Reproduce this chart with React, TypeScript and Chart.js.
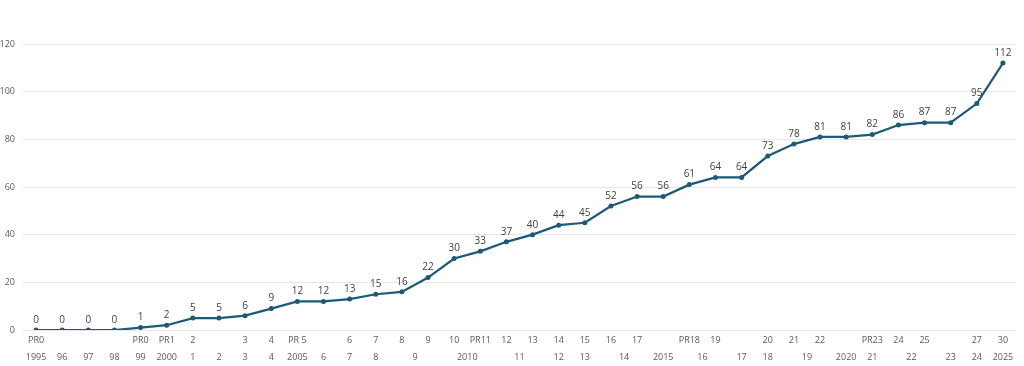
import React, { useEffect, useRef } from "react";
import { Chart, registerables } from "chart.js";

Chart.register(...registerables);

const prLabels = ["PR0", "", "", "", "PR0", "PR1", "2", "", "3", "4", "PR 5", "", "6", "7", "8", "9", "10", "PR11", "12", "13", "14", "15", "16", "17", "", "PR18", "19", "", "20", "21", "22", "", "PR23", "24", "25", "", "27", "30"];
const values = [0, 0, 0, 0, 1, 2, 5, 5, 6, 9, 12, 12, 13, 15, 16, 22, 30, 33, 37, 40, 44, 45, 52, 56, 56, 61, 64, 64, 73, 78, 81, 81, 82, 86, 87, 87, 95, 112];
const yearLabels = ["1995", "96", "97", "98", "99", "2000", "1", "2", "3", "4", "2005", "6", "7", "8", "9", "2010", "11", "12", "13", "14", "2015", "16", "17", "18", "19", "2020", "21", "22", "23", "24", "2025"];
const yearSpans = [1, 1, 1, 1, 1, 1, 1, 1, 1, 1, 1, 1, 1, 1, 2, 2, 2, 1, 1, 2, 1, 2, 1, 1, 2, 1, 1, 2, 1, 1, 1];
const yTicks = [0, 20, 40, 60, 80, 100, 120];

const FONT = "'Open Sans', 'Noto Sans', sans-serif";
const LINE = "#1c5a78";
const TEXT = "#595959";

function yearCenters(): number[] {
  const out: number[] = [];
  let start = 0;
  for (const s of yearSpans) {
    out.push(start + (s - 1) / 2);
    start += s;
  }
  return out;
}

const dataLabelPlugin = {
  id: "dataLabels",
  afterDatasetsDraw(chart: any) {
    const ctx = chart.ctx;
    const meta = chart.getDatasetMeta(0);
    ctx.save();
    ctx.font = `10px ${FONT}`;
    ctx.fillStyle = "#404040";
    ctx.textAlign = "center";
    ctx.textBaseline = "bottom";
    meta.data.forEach((pt: any, i: number) => {
      ctx.fillText(String(values[i]), pt.x, pt.y - 5);
    });
    ctx.restore();
  },
};

export default function App() {
  const ref = useRef<HTMLCanvasElement | null>(null);
  useEffect(() => {
    document.body.style.margin = "0";
    const centers = yearCenters();
    const chart = new Chart(ref.current as HTMLCanvasElement, {
      type: "line",
      data: {
        labels: prLabels,
        datasets: [
          {
            data: values,
            borderColor: LINE,
            backgroundColor: LINE,
            borderWidth: 2.25,
            pointRadius: 2.5,
            pointHoverRadius: 2.5,
            pointBorderWidth: 0,
            tension: 0,
            xAxisID: "x",
          },
        ],
      },
      options: {
        animation: false,
        responsive: false,
        layout: { padding: { top: 44, right: 8, left: 0, bottom: 0 } },
        plugins: { legend: { display: false }, tooltip: { enabled: false } },
        scales: {
          x: {
            type: "category",
            position: "bottom",
            offset: true,
            grid: { display: false, drawTicks: false },
            border: { display: false },
            ticks: {
              autoSkip: false,
              maxRotation: 0,
              color: TEXT,
              padding: 5,
              font: { family: FONT, size: 9 },
            },
            afterFit(s: any) {
              s.height = 18;
            },
          },
          x2: {
            type: "linear",
            position: "bottom",
            min: -0.5,
            max: values.length - 0.5,
            grid: { display: false, drawTicks: false },
            border: { display: false },
            afterBuildTicks(s: any) {
              s.ticks = centers.map((v) => ({ value: v }));
            },
            ticks: {
              autoSkip: false,
              maxRotation: 0,
              color: TEXT,
              padding: 4,
              font: { family: FONT, size: 9 },
              callback: (_v: any, i: number) => yearLabels[i],
            },
            afterFit(s: any) {
              s.height = 18;
            },
          },
          y: {
            min: 0,
            max: 120,
            grid: { color: "#e6e6e6", drawTicks: false, lineWidth: 1 },
            border: { display: false },
            afterBuildTicks(s: any) {
              s.ticks = yTicks.map((v) => ({ value: v }));
            },
            ticks: {
              color: TEXT,
              padding: 8,
              font: { family: FONT, size: 9 },
            },
            afterFit(s: any) {
              s.width = 23;
            },
          },
        },
      },
      plugins: [dataLabelPlugin],
    } as any);
    return () => chart.destroy();
  }, []);
  return (
    <div style={{ width: 1024, height: 366 }}>
      <canvas ref={ref} width={1024} height={366} style={{ display: "block" }} />
    </div>
  );
}
